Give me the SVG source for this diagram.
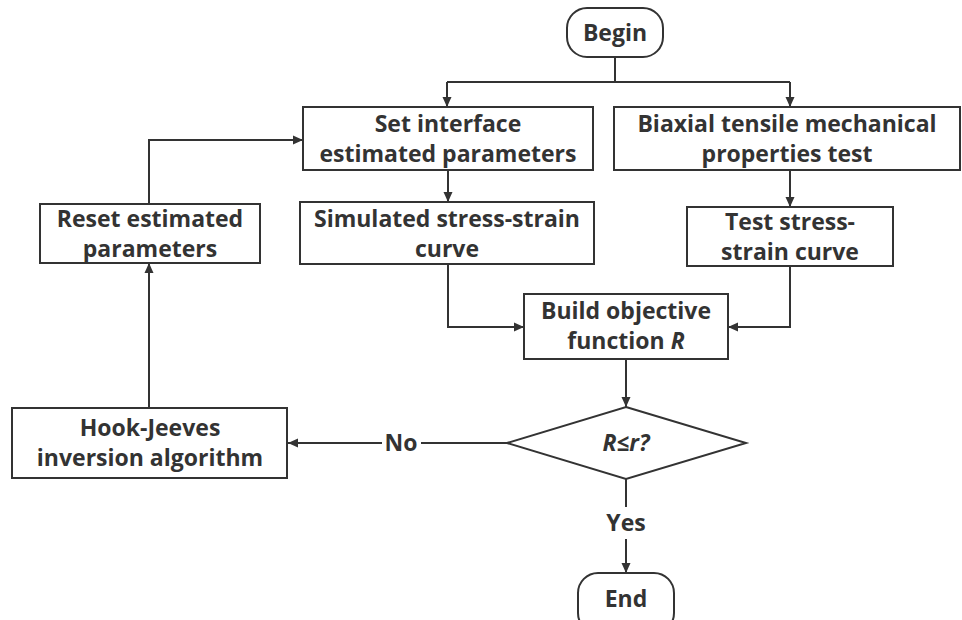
<svg xmlns="http://www.w3.org/2000/svg" width="962" height="620" viewBox="0 0 962 620">
<defs>
<marker id="arr" viewBox="0 0 10 10" refX="10" refY="5" markerWidth="10" markerHeight="10" markerUnits="userSpaceOnUse" orient="auto">
<path d="M0,0.5 L10,5 L0,9.5 Z" fill="#333"/>
</marker>
<style>
.box{fill:#fff;stroke:#333;stroke-width:2}
.t{font-family:"Open Sans","Noto Sans","Liberation Sans",sans-serif;font-weight:bold;font-size:23px;fill:#333;text-anchor:middle}
.c{fill:none;stroke:#333;stroke-width:2}
</style>
</defs>
<rect width="962" height="620" fill="#fff"/>
<g id="connectors">
<path class="c" d="M615,57 V82"/>
<path class="c" d="M447,82 H790"/>
<path class="c" d="M447,82 V107" marker-end="url(#arr)"/>
<path class="c" d="M790,82 V107" marker-end="url(#arr)"/>
<path class="c" d="M448,170 V202" marker-end="url(#arr)"/>
<path class="c" d="M790,170 V207" marker-end="url(#arr)"/>
<path class="c" d="M448,264 V327 H524" marker-end="url(#arr)"/>
<path class="c" d="M790,266 V327 H728" marker-end="url(#arr)"/>
<path class="c" d="M626,359 V407" marker-end="url(#arr)"/>
<path class="c" d="M507,443 H421"/>
<path class="c" d="M382,443 H288" marker-end="url(#arr)"/>
<text class="t" x="401" y="451">No</text>
<path class="c" d="M626,479 V507"/>
<path class="c" d="M626,539 V573" marker-end="url(#arr)"/>
<text class="t" x="626" y="531">Yes</text>
<path class="c" d="M149,408 V263" marker-end="url(#arr)"/>
<path class="c" d="M149,204 V140 H303" marker-end="url(#arr)"/>
</g>
<g id="begin">
<rect class="box" x="567" y="8" width="96" height="49" rx="20"/>
<text class="t" x="615" y="41">Begin</text>
</g>
<g id="set">
<rect class="box" x="303" y="107" width="290" height="63"/>
<text class="t" x="448" y="132">Set interface</text>
<text class="t" x="448" y="162">estimated parameters</text>
</g>
<g id="biaxial">
<rect class="box" x="614" y="107" width="346" height="63"/>
<text class="t" x="787" y="132">Biaxial tensile mechanical</text>
<text class="t" x="787" y="162">properties test</text>
</g>
<g id="simulated">
<rect class="box" x="300" y="202" width="294" height="62"/>
<text class="t" x="447" y="227">Simulated stress-strain</text>
<text class="t" x="447" y="257">curve</text>
</g>
<g id="test">
<rect class="box" x="687" y="207" width="206" height="59"/>
<text class="t" x="790" y="230">Test stress-</text>
<text class="t" x="790" y="260">strain curve</text>
</g>
<g id="reset">
<rect class="box" x="40" y="204" width="220" height="59"/>
<text class="t" x="150" y="227">Reset estimated</text>
<text class="t" x="150" y="257">parameters</text>
</g>
<g id="build">
<rect class="box" x="524" y="294" width="204" height="65"/>
<text class="t" x="626" y="319">Build objective</text>
<text class="t" x="626" y="349">function <tspan font-style="italic">R</tspan></text>
</g>
<g id="decision">
<polygon class="box" points="626,407 746,443 626,479 507,443"/>
<text class="t" x="626" y="451" font-style="italic">R≤r?</text>
</g>
<g id="hook">
<rect class="box" x="12" y="408" width="275" height="70"/>
<text class="t" x="150" y="436">Hook-Jeeves</text>
<text class="t" x="150" y="466">inversion algorithm</text>
</g>
<g id="end">
<rect class="box" x="578" y="573" width="96" height="60" rx="20"/>
<text class="t" x="626" y="607">End</text>
</g>
</svg>
